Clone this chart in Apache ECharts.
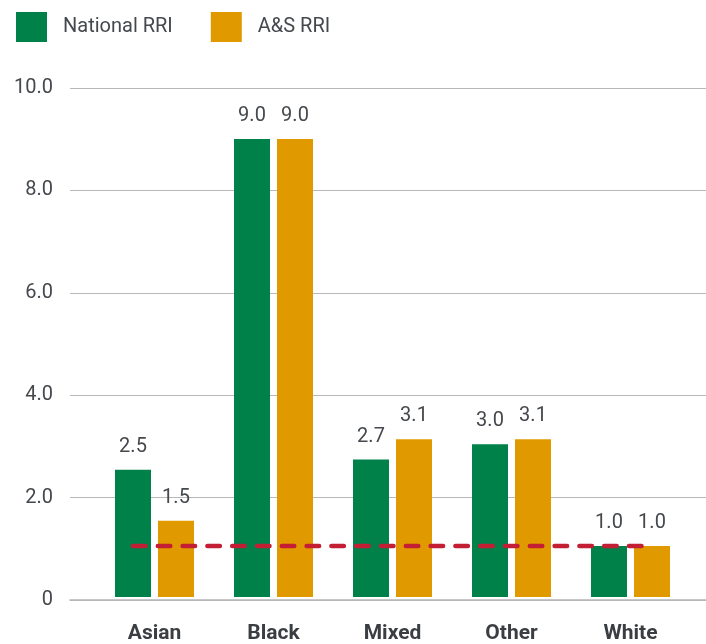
<!DOCTYPE html>
<html>
<head>
<meta charset="utf-8">
<script src="https://cdn.jsdelivr.net/npm/echarts@6/dist/echarts.min.js"></script>
<style>
  html, body { margin: 0; padding: 0; background: #fff; }
  #chart { width: 706px; height: 644px; }
</style>
</head>
<body>
<div id="chart"></div>
<script>
// Relative rate index by ethnic group
const categories = ['Asian', 'Black', 'Mixed', 'Other', 'White'];
const nationalRRI = [2.5, 9.0, 2.7, 3.0, 1.0];
const asRRI = [1.5, 9.0, 3.1, 3.1, 1.0];
const seriesNames = ['National RRI', 'A&S RRI'];
const parityLevel = 1;
const yTicks = [0, 2, 4, 6, 8, 10];

const FONT = "'Roboto', 'Liberation Sans', sans-serif";
const GREEN = '#00814a';
const ORANGE = '#e09a00';
const RED = '#c41e35';
const TEXT = '#45494d';

// bar geometry (pixels) used to extend the parity line to the outer bar centres
const GRID_LEFT = 95, GRID_RIGHT = 16, PLOT_W = 706 - GRID_LEFT - GRID_RIGHT;
const BAND = PLOT_W / categories.length;
const BAR_W = 36, BAR_GAP = 7;
const edgeOffset = (BAR_W + BAR_GAP) / 2 / BAND;
const parityLine = [
  [0 - edgeOffset, parityLevel],
  [categories.length - 1 + edgeOffset, parityLevel]
];

const chart = echarts.init(document.getElementById('chart'), null, { renderer: 'canvas' });

const valueLabel = {
  show: true,
  position: 'top',
  distance: 13,
  fontFamily: FONT,
  fontSize: 20,
  color: TEXT,
  formatter: p => p.value.toFixed(1)
};

chart.setOption({
  animation: false,
  textStyle: { fontFamily: FONT },
  legend: {
    left: 11,
    top: 7,
    itemWidth: 31,
    itemHeight: 30,
    itemGap: 38,
    icon: 'rect',
    textStyle: { fontFamily: FONT, fontSize: 20, color: TEXT, padding: [0, 0, 0, 11] },
    data: seriesNames
  },
  grid: [
    // wide grid carrying the value axis and its gridlines
    { left: 70, right: 0, top: 88, bottom: 44, containLabel: false },
    // inner grid carrying the bars
    { left: GRID_LEFT, right: GRID_RIGHT, top: 88, bottom: 44, containLabel: false }
  ],
  xAxis: [
    {
      gridIndex: 0, type: 'value', min: 0, max: 1, show: true,
      axisLine: { show: true, onZero: false, lineStyle: { color: '#b5b5b5', width: 1.5 } },
      axisTick: { show: false }, axisLabel: { show: false }, splitLine: { show: false }
    },
    {
      gridIndex: 1, type: 'category', data: categories,
      axisLine: { show: false }, axisTick: { show: false },
      axisLabel: { fontFamily: FONT, fontSize: 21, fontWeight: 'bold', color: '#3a3e42', margin: 26 }
    },
    {
      gridIndex: 1, type: 'value', min: -0.5, max: categories.length - 0.5, show: false
    }
  ],
  yAxis: [
    {
      gridIndex: 0, type: 'value', min: yTicks[0], max: yTicks[yTicks.length - 1], interval: yTicks[1] - yTicks[0],
      axisLine: { show: false }, axisTick: { show: false },
      axisLabel: {
        fontFamily: FONT, fontSize: 20, color: TEXT, margin: 17,
        formatter: v => (v === 0 ? '0' : v.toFixed(1))
      },
      splitLine: { show: true, lineStyle: { color: '#b8b8b8', width: 1 } }
    },
    { gridIndex: 1, type: 'value', min: yTicks[0], max: yTicks[yTicks.length - 1], interval: yTicks[1] - yTicks[0], show: false }
  ],
  series: [
    {
      name: seriesNames[0], type: 'bar', xAxisIndex: 1, yAxisIndex: 1,
      data: nationalRRI, barWidth: BAR_W, barGap: (BAR_GAP / BAR_W * 100) + '%',
      itemStyle: { color: GREEN }, label: valueLabel, z: 2
    },
    {
      name: seriesNames[1], type: 'bar', xAxisIndex: 1, yAxisIndex: 1,
      data: asRRI, barWidth: BAR_W,
      itemStyle: { color: ORANGE }, label: valueLabel, z: 2
    },
    {
      name: 'Parity', type: 'line', xAxisIndex: 2, yAxisIndex: 1,
      data: parityLine, symbol: 'none', silent: true, z: 5,
      lineStyle: { color: RED, width: 4.5, type: [12.5, 12.3], cap: 'round' }
    }
  ]
});
</script>
</body>
</html>
